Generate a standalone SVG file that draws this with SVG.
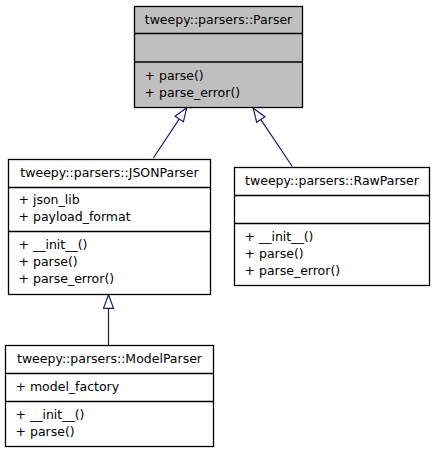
<svg xmlns="http://www.w3.org/2000/svg" width="435" height="453" viewBox="0 0 435 453">
  <style>
    .box { fill: #ffffff; stroke: #000000; stroke-width: 1.3; }
    .base { fill: #bfbfbf; }
    .sep { stroke: #000000; stroke-width: 1.3; }
    text { font-family: "DejaVu Sans", "Liberation Sans", sans-serif; font-size: 12.5px; fill: #000000; }
    .title { text-anchor: middle; }
    .edge { fill: none; stroke: #191970; stroke-width: 1.2; }
  </style>
  <defs>
    <!-- hollow triangle for generalization -->
    <marker id="inherit" viewBox="-1 -1 16 12" refX="13.5" refY="5" markerUnits="userSpaceOnUse" markerWidth="16" markerHeight="12" orient="auto">
      <path d="M0,0 L13.5,5 L0,10 Z" fill="#ffffff" stroke="#191970" stroke-width="1.2"/>
    </marker>
  </defs>

  <g id="edges">
    <path class="edge" d="M153.3,158 L186.7,107.8" marker-end="url(#inherit)"/>
    <path class="edge" d="M292.3,166.5 L253.3,108.3" marker-end="url(#inherit)"/>
    <path class="edge" d="M108.5,345 L108.5,294.8" marker-end="url(#inherit)"/>
  </g>

  <g id="Parser">
    <rect class="box base" x="134.5" y="6.5" width="168" height="101"/>
    <line class="sep" x1="134.5" y1="33.5" x2="302.5" y2="33.5"/>
    <line class="sep" x1="134.5" y1="62" x2="302.5" y2="62"/>
    <text class="title" x="218.5" y="24">tweepy::parsers::Parser</text>
    <text x="144.5" y="79.5">+ parse()</text>
    <text x="144.5" y="96.5">+ parse_error()</text>
  </g>

  <g id="JSONParser">
    <rect class="box" x="8.5" y="159.5" width="202" height="135"/>
    <line class="sep" x1="8.5" y1="187.5" x2="210.5" y2="187.5"/>
    <line class="sep" x1="8.5" y1="231.5" x2="210.5" y2="231.5"/>
    <text class="title" x="109.5" y="176.5">tweepy::parsers::JSONParser</text>
    <text x="18.5" y="204">+ json_lib</text>
    <text x="18.5" y="221">+ payload_format</text>
    <text x="18.5" y="249">+ __init__()</text>
    <text x="18.5" y="266">+ parse()</text>
    <text x="18.5" y="283">+ parse_error()</text>
  </g>

  <g id="RawParser">
    <rect class="box" x="234.5" y="167.5" width="195" height="118"/>
    <line class="sep" x1="234.5" y1="195.5" x2="429.5" y2="195.5"/>
    <line class="sep" x1="234.5" y1="223.5" x2="429.5" y2="223.5"/>
    <text class="title" x="332" y="184.5">tweepy::parsers::RawParser</text>
    <text x="244.5" y="240.5">+ __init__()</text>
    <text x="244.5" y="257.5">+ parse()</text>
    <text x="244.5" y="274.5">+ parse_error()</text>
  </g>

  <g id="ModelParser">
    <rect class="box" x="5.5" y="345.5" width="208" height="101"/>
    <line class="sep" x1="5.5" y1="373.5" x2="213.5" y2="373.5"/>
    <line class="sep" x1="5.5" y1="401.5" x2="213.5" y2="401.5"/>
    <text class="title" x="109.5" y="362.5">tweepy::parsers::ModelParser</text>
    <text x="15.5" y="390.5">+ model_factory</text>
    <text x="15.5" y="418.5">+ __init__()</text>
    <text x="15.5" y="435.5">+ parse()</text>
  </g>
</svg>
